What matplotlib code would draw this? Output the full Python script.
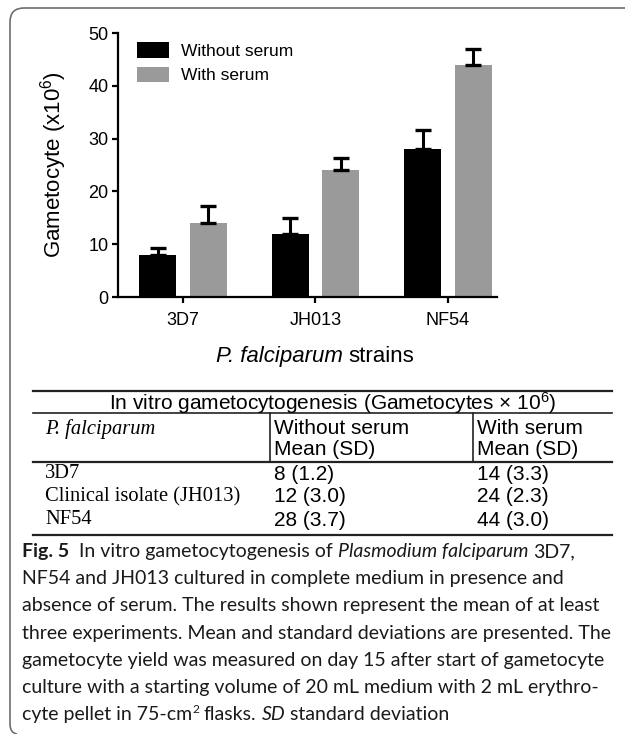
import matplotlib
matplotlib.use("Agg")
import matplotlib.pyplot as plt
import numpy as np
from matplotlib.lines import Line2D
from matplotlib.path import Path
from matplotlib.patches import PathPatch

plt.rcParams['font.family'] = ['Liberation Sans', 'DejaVu Sans']
plt.rcParams['mathtext.fontset'] = 'custom'
plt.rcParams['mathtext.rm'] = 'Liberation Sans'
plt.rcParams['mathtext.it'] = 'Liberation Sans:italic'
plt.rcParams['mathtext.bf'] = 'Liberation Sans:bold'

# gametocyte yield (x10^6), mean and SD
strains = ["3D7", "JH013", "NF54"]
row_labels = ["3D7", "Clinical isolate (JH013)", "NF54"]
mean_without = [8, 12, 28]
sd_without = [1.2, 3.0, 3.7]
mean_with = [14, 24, 44]
sd_with = [3.3, 2.3, 3.0]
yticks = [0, 10, 20, 30, 40, 50]

caption = [
    [("Fig. 5", "bold"), ("  In vitro gametocytogenesis of ", "normal"),
     ("Plasmodium falciparum", "italic"), (" 3D7,", "normal")],
    [("NF54 and JH013 cultured in complete medium in presence and", "normal")],
    [("absence of serum. The results shown represent the mean of at least", "normal")],
    [("three experiments. Mean and standard deviations are presented. The", "normal")],
    [("gametocyte yield was measured on day 15 after start of gametocyte", "normal")],
    [("culture with a starting volume of 20 mL medium with 2 mL erythro-", "normal")],
    [("cyte pellet in 75-cm", "normal"), ("2", "sup"), (" flasks. ", "normal"),
     ("SD", "italic"), (" standard deviation", "normal")],
]

W, H = 627, 734


def fx(x):
    return x / W


def fy(y):
    return 1 - y / H


fig = plt.figure(figsize=(W / 100, H / 100), dpi=100)
renderer = fig.canvas.get_renderer()


def text_w(s, kw):
    t = fig.text(0.5, 0.5, s, **kw)
    w = t.get_window_extent(renderer).width
    t.remove()
    return w


def draw_runs(x0, yb, runs, styles, color, keep=True):
    # mixed-style line, pieces placed one after another on a common baseline
    space_w = text_w("a a", styles["normal"]) - text_w("aa", styles["normal"])
    xb = x0
    for txt, st in runs:
        lead = len(txt) - len(txt.lstrip(" "))
        trail = len(txt) - len(txt.rstrip(" "))
        core = txt.strip(" ")
        xb += lead * space_w
        ys = yb - 7 if st == "sup" else yb
        t = fig.text(fx(xb), fy(ys), core, ha="left", va="baseline",
                     color=color, **styles[st])
        xb += t.get_window_extent(renderer).width + trail * space_w
        if not keep:
            t.remove()
    return xb


# ---- bar chart ----
ax = fig.add_axes([fx(118), fy(297), (497 - 118) / W, (297 - 33) / H])
x = np.arange(len(strains))
off, bw = 0.19, 0.28
ax.bar(x - off, mean_without, bw, color="black", label="Without serum", zorder=2)
ax.bar(x + off, mean_with, bw, color="#9a9a9a", label="With serum", zorder=2)
ax.errorbar(x - off, mean_without, yerr=[np.zeros(len(x)), sd_without], fmt="none",
            ecolor="black", elinewidth=2.2, capsize=5.5, capthick=2.4, zorder=3)
ax.errorbar(x + off, mean_with, yerr=[np.zeros(len(x)), sd_with], fmt="none",
            ecolor="black", elinewidth=2.2, capsize=5.5, capthick=2.4, zorder=3)

ax.set_xlim(-0.49, 2.37)
ax.set_ylim(0, 50)
ax.set_yticks(yticks)
ax.set_xticks(x)
ax.set_xticklabels(strains)
for s in ["top", "right"]:
    ax.spines[s].set_visible(False)
for s in ["left", "bottom"]:
    ax.spines[s].set_linewidth(1.6)
ax.tick_params(axis="y", width=1.6, length=4, labelsize=13, pad=3)
ax.tick_params(axis="x", width=1.6, length=4.5, labelsize=13, pad=6)
ax.set_ylabel("Gametocyte (x10$^6$)", fontsize=16)
ax.yaxis.set_label_coords(-0.13, 0.5)
ax.legend(loc="upper left", bbox_to_anchor=(0.05, 0.966), frameon=False,
          fontsize=12.5, handlelength=1.85, handleheight=1.0, handletextpad=0.7,
          labelspacing=0.45, borderpad=0, borderaxespad=0)

# x axis title with italic species name
xl_styles = {
    "normal": dict(family="Liberation Sans", fontsize=16),
    "italic": dict(family="Liberation Sans", fontsize=16, style="italic"),
}
xl_runs = [("P. falciparum", "italic"), (" strains", "normal")]
xl_w = draw_runs(0, 362, xl_runs, xl_styles, "black", keep=False)
draw_runs(315 - xl_w / 2, 362, xl_runs, xl_styles, "black")

# ---- table ----
tcol = "#222222"
for yl, lw in [(391, 1.6), (413, 1.2), (462, 1.6), (535, 1.6)]:
    fig.add_artist(Line2D([fx(33), fx(612)], [fy(yl), fy(yl)], color=tcol, lw=lw))
for xl in [270, 473]:
    fig.add_artist(Line2D([fx(xl), fx(xl)], [fy(413), fy(462)], color=tcol, lw=1.2))

sans = dict(fontsize=15, family="Liberation Sans", color="black")
serif = dict(fontsize=14.8, family="Liberation Serif", color="black")
fig.text(fx(333), fy(403), "In vitro gametocytogenesis (Gametocytes \u00d7 10$^6$)",
         ha="center", va="center", **sans)
fig.text(fx(45), fy(429), "P. falciparum", ha="left", va="center", style="italic", **serif)
for xc, head in [(274, "Without serum"), (477, "With serum")]:
    fig.text(fx(xc), fy(429), head, ha="left", va="center", **sans)
    fig.text(fx(xc), fy(450), "Mean (SD)", ha="left", va="center", **sans)
row_y = [474, 497, 520]
for i, yr in enumerate(row_y):
    fig.text(fx(45), fy(yr), row_labels[i], ha="left", va="center", **serif)
    fig.text(fx(274), fy(yr), f"{mean_without[i]} ({sd_without[i]:.1f})",
             ha="left", va="center", **sans)
    fig.text(fx(477), fy(yr), f"{mean_with[i]} ({sd_with[i]:.1f})",
             ha="left", va="center", **sans)

# ---- caption ----
cap_size = 14
cap_styles = {
    "normal": dict(family="Lato", fontsize=cap_size),
    "bold": dict(family="Lato", fontsize=cap_size, weight="bold"),
    "italic": dict(family="Lato", fontsize=cap_size, style="italic"),
    "sup": dict(family="Lato", fontsize=cap_size * 0.62),
}
for i, line in enumerate(caption):
    draw_runs(22, 557 + 27.2 * i, line, cap_styles, "#1a1a1a")

# ---- frame ----
verts = [(625, 8), (24, 8), (10, 8), (10, 22), (10, 724), (10, 733), (17, 734)]
codes = [Path.MOVETO, Path.LINETO, Path.CURVE3, Path.CURVE3, Path.LINETO,
         Path.CURVE3, Path.CURVE3]
frame = Path([(fx(a), fy(b)) for a, b in verts], codes)
fig.add_artist(PathPatch(frame, transform=fig.transFigure, fill=False,
                         edgecolor="#6e6e6e", lw=1.2))

fig.savefig("out.png", dpi=100)
